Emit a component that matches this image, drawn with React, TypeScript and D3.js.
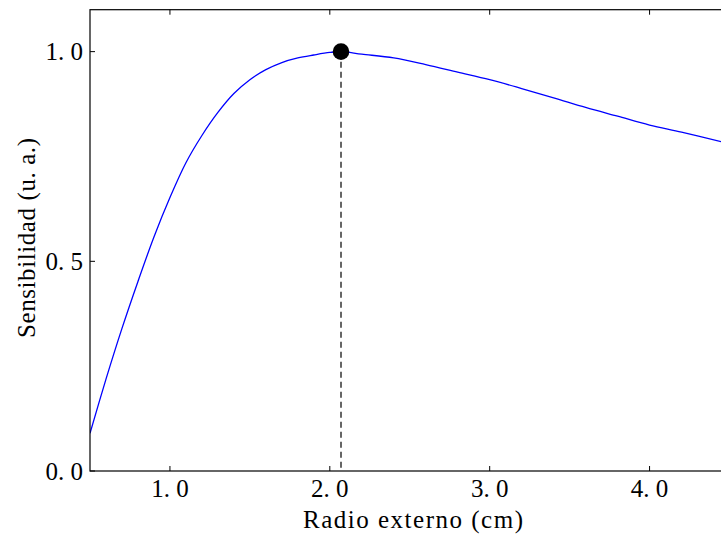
import React from "react";
import * as d3 from "d3";

const radius = [0.5, 0.6, 0.7, 0.8, 0.9, 1.0, 1.1, 1.2, 1.3, 1.4, 1.5, 1.6, 1.7, 1.8, 1.9, 2.0, 2.07, 2.2, 2.4, 2.6, 2.8, 3.0, 3.2, 3.4, 3.6, 3.8, 4.0, 4.2, 4.45];
const sensitivity = [0.09, 0.219, 0.34, 0.452, 0.558, 0.652, 0.735, 0.8, 0.855, 0.9, 0.933, 0.957, 0.974, 0.985, 0.992, 0.998, 1.0, 0.994, 0.985, 0.969, 0.951, 0.933, 0.912, 0.89, 0.867, 0.846, 0.825, 0.808, 0.785];
const peakX = 2.07;
const peakY = 1.0;
const xTicks = [1.0, 2.0, 3.0, 4.0];
const yTicks = [0.0, 0.5, 1.0];
const xTickLabels = ["1. 0", "2. 0", "3. 0", "4. 0"];
const yTickLabels = ["0. 0", "0. 5", "1. 0"];
const xLabel = "Radio externo (cm)";
const yLabel = "Sensibilidad (u. a.)";

export default function App() {
  const W = 721, H = 536;
  const left = 90, right = 729.5, top = 9.7, bottom = 471;
  const x = d3.scaleLinear().domain([0.5, 4.5]).range([left, right]);
  const y = d3.scaleLinear().domain([0, 1.1]).range([bottom, top]);
  const pts = radius.map((r, i) => [r, sensitivity[i]] as [number, number]);
  const line = d3.line<[number, number]>().x(d => x(d[0])).y(d => y(d[1])).curve(d3.curveCatmullRom);
  const font = "'Liberation Serif', 'Times New Roman', 'DejaVu Serif', serif";
  const fs = 25;
  const tl = 5;
  return (
    <svg width={W} height={H} style={{ position: "absolute", left: 0, top: 0, background: "#fff" }}>
      <defs>
        <clipPath id="plot"><rect x={left} y={top} width={right - left} height={bottom - top} /></clipPath>
      </defs>
      <g clipPath="url(#plot)">
        <path d={line(pts) || ""} fill="none" stroke="#0000ff" strokeWidth={1.3} />
      </g>
      <line x1={x(peakX)} x2={x(peakX)} y1={y(peakY)} y2={bottom} stroke="#333" strokeWidth={1.5} strokeDasharray="6,4" />
      <circle cx={x(peakX)} cy={y(peakY)} r={8.3} fill="#000" />
      <rect x={left} y={top} width={right - left} height={bottom - top} fill="none" stroke="#000" strokeWidth={1.2} />
      <g style={{ fontFamily: font, fontSize: fs }}>
        {xTicks.map((t, i) => (
          <g key={"x" + i}>
            <line x1={x(t)} x2={x(t)} y1={bottom} y2={bottom - tl} stroke="#000" strokeWidth={1} />
            <line x1={x(t)} x2={x(t)} y1={top} y2={top + tl} stroke="#000" strokeWidth={1} />
            <text x={x(t)} y={497} textAnchor="middle" style={{ whiteSpace: "pre" }}>{xTickLabels[i]}</text>
          </g>
        ))}
        {yTicks.map((t, i) => (
          <g key={"y" + i}>
            <line x1={left} x2={left + tl} y1={y(t)} y2={y(t)} stroke="#000" strokeWidth={1} />
            <line x1={right} x2={right - tl} y1={y(t)} y2={y(t)} stroke="#000" strokeWidth={1} />
            <text x={83} y={y(t) + 8.5} textAnchor="end" style={{ whiteSpace: "pre" }}>{yTickLabels[i]}</text>
          </g>
        ))}
        <text x={303} y={528} textLength={220} lengthAdjust="spacing">{xLabel}</text>
        <text transform={`translate(35,338) rotate(-90)`} textLength={200} lengthAdjust="spacing">{yLabel}</text>
      </g>
    </svg>
  );
}
